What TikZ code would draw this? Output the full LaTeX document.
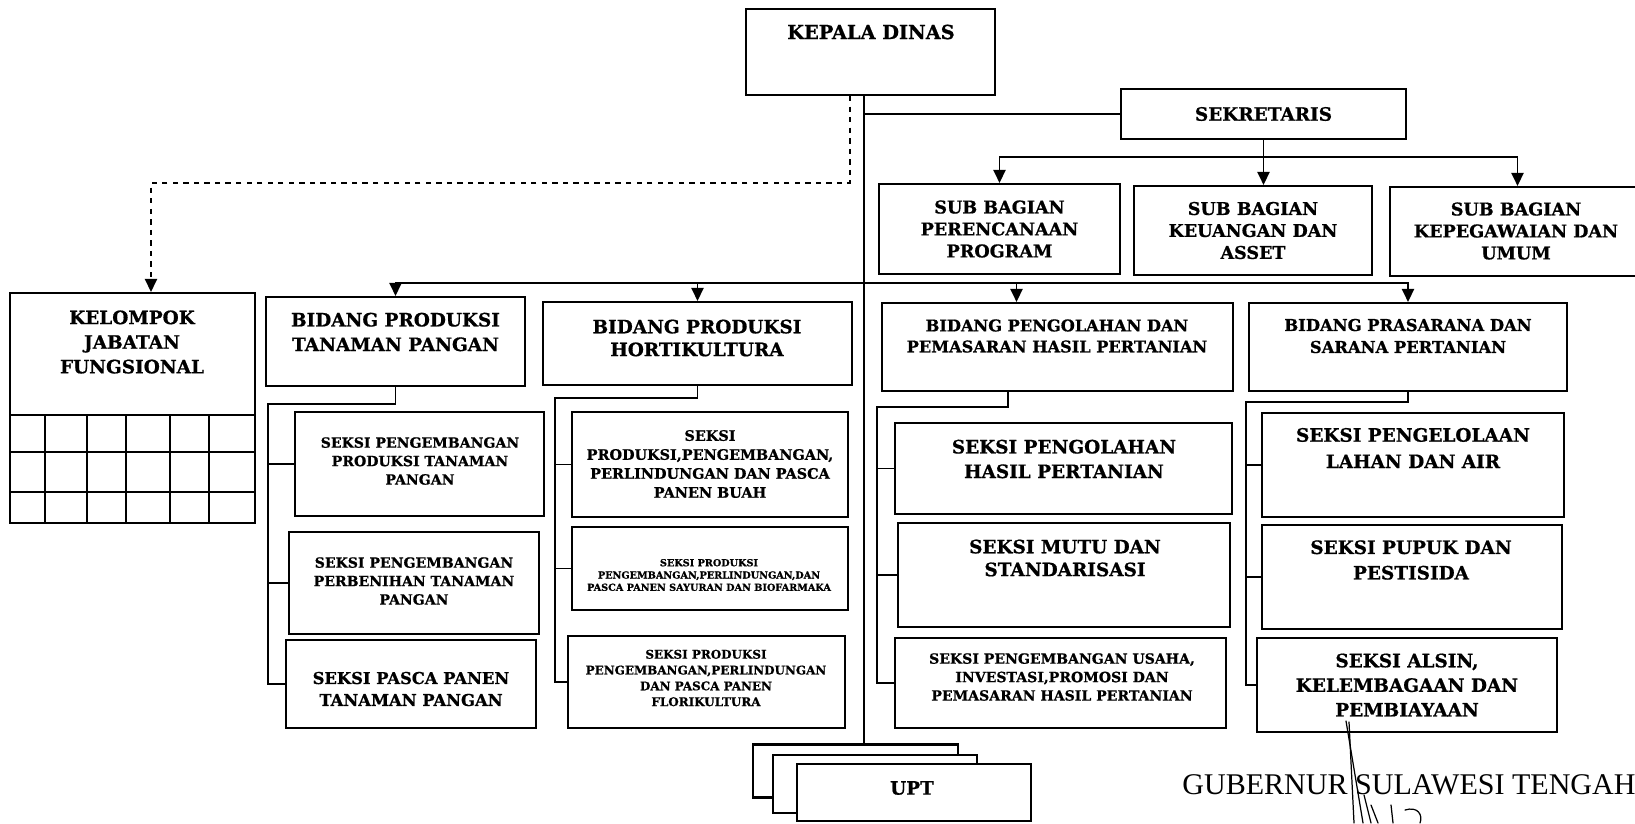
\documentclass[tikz,border=0pt]{standalone}
\usepackage{fontspec}
\setmainfont{DejaVu Serif}[BoldFeatures={FakeBold=0.8}]
\newfontfamily\signfont{Liberation Serif}
\usetikzlibrary{arrows.meta,calc}

\newcommand{\fs}[2]{\bfseries\fontsize{#1}{#2}\selectfont}

\tikzset{
  box/.style={draw, line width=1.2pt, fill=white, inner sep=0pt},
  sz/.style n args={2}{minimum width=#1*0.02cm, minimum height=#2*0.02cm},
  txt/.style={align=center, inner sep=0pt},
  conn/.style={line width=1pt},
  arr/.style={conn, -{Triangle[length=7.5pt,width=7pt]}},
  sig/.style={line width=0.7pt, line cap=round},
}

\begin{document}
\begin{tikzpicture}[x=0.02cm, y=-0.02cm]
        \useasboundingbox (0,0) rectangle (1635,823);

        % Kepala Dinas and Sekretaris
        \node[box, sz={249}{86}] (kadis) at (870.5,52) {};
        \node[txt, font=\fs{11}{13}] (kadis-t) at (871,32) {KEPALA DINAS};
        \node[box, sz={285}{50}] (sekre) at (1263.5,114) {};
        \node[txt, font=\fs{10.5}{13}] (sekre-t) at (sekre) {SEKRETARIS};

        % Sub bagian
        \node[box, sz={241}{90}] (sbprog) at (999.5,229) {};
        \node[txt, font=\fs{10}{12.5}] (sbprog-t) at (sbprog) {SUB BAGIAN\\PERENCANAAN\\PROGRAM};
        \node[box, sz={238}{89}] (sbkeu) at (1253,230.5) {};
        \node[txt, font=\fs{10}{12.5}] (sbkeu-t) at (sbkeu) {SUB BAGIAN\\KEUANGAN DAN\\ASSET};
        \node[box, sz={255}{89}] (sbumum) at (1517.5,231.5) {};
        \node[txt, font=\fs{10}{12.5}] (sbumum-t) at (1516,231) {SUB BAGIAN\\KEPEGAWAIAN DAN\\UMUM};

        % Kelompok jabatan fungsional
        \node[box, sz={245}{230}] (jf) at (132.5,408) {};
        \node[txt, font=\fs{10.5}{14}] (jf-t) at (132,342) {KELOMPOK\\JABATAN\\FUNGSIONAL};
        \foreach \gy in {415,452,492}
            \draw[line width=1.2pt] (10,\gy) -- (255,\gy);
        \foreach \gx in {45,87,126,170,209}
            \draw[line width=1.2pt] (\gx,415) -- (\gx,523);

        % Bidang
        \node[box, sz={259}{89}] (tp) at (395.5,341.5) {};
        \node[txt, font=\fs{10.5}{14}] (tp-t) at (395.5,332) {BIDANG PRODUKSI\\TANAMAN PANGAN};
        \node[box, sz={309}{83}] (horti) at (697.5,343.5) {};
        \node[txt, font=\fs{10.5}{13}] (horti-t) at (697,338) {BIDANG PRODUKSI\\HORTIKULTURA};
        \node[box, sz={351}{88}] (php) at (1057.5,347) {};
        \node[txt, font=\fs{9.2}{12}] (php-t) at (1057,336) {BIDANG PENGOLAHAN DAN\\PEMASARAN HASIL PERTANIAN};
        \node[box, sz={318}{88}] (psp) at (1408,347) {};
        \node[txt, font=\fs{9.3}{12.5}] (psp-t) at (1408,336) {BIDANG PRASARANA DAN\\SARANA PERTANIAN};

        % Seksi tanaman pangan
        \node[box, sz={249}{104}] (tp1) at (419.5,464) {};
        \node[txt, font=\fs{8}{10.5}] (tp1-t) at (420,461) {SEKSI PENGEMBANGAN\\PRODUKSI TANAMAN\\PANGAN};
        \node[box, sz={250}{102}] (tp2) at (414,583) {};
        \node[txt, font=\fs{8}{10.5}] (tp2-t) at (414,581) {SEKSI PENGEMBANGAN\\PERBENIHAN TANAMAN\\PANGAN};
        \node[box, sz={250}{88}] (tp3) at (411,684) {};
        \node[txt, font=\fs{9.3}{12.5}] (tp3-t) at (411,689) {SEKSI PASCA PANEN\\TANAMAN PANGAN};

        % Seksi hortikultura
        \node[box, sz={276}{105}] (horti1) at (710,464.5) {};
        \node[txt, font=\fs{8.2}{10.8}] (horti1-t) at (710,464) {SEKSI\\PRODUKSI,PENGEMBANGAN,\\PERLINDUNGAN DAN PASCA\\PANEN BUAH};
        \node[box, sz={276}{83}] (horti2) at (710,568.5) {};
        \node[txt, font=\fs{5.5}{7}] (horti2-t) at (709,575) {SEKSI PRODUKSI\\PENGEMBANGAN,PERLINDUNGAN,DAN\\PASCA PANEN SAYURAN DAN BIOFARMAKA};
        \node[box, sz={277}{92}] (horti3) at (706.5,682) {};
        \node[txt, font=\fs{6.8}{9}] (horti3-t) at (706,678) {SEKSI PRODUKSI\\PENGEMBANGAN,PERLINDUNGAN\\DAN PASCA PANEN\\FLORIKULTURA};

        % Seksi pengolahan dan pemasaran
        \node[box, sz={337}{91}] (php1) at (1063.5,468.5) {};
        \node[txt, font=\fs{10.5}{14}] (php1-t) at (1064,459) {SEKSI PENGOLAHAN\\HASIL PERTANIAN};
        \node[box, sz={332}{104}] (php2) at (1064,575) {};
        \node[txt, font=\fs{10.5}{13}] (php2-t) at (1065,558) {SEKSI MUTU DAN\\STANDARISASI};
        \node[box, sz={331}{90}] (php3) at (1060.5,683) {};
        \node[txt, font=\fs{8}{10.5}] (php3-t) at (1062,677) {SEKSI PENGEMBANGAN USAHA,\\INVESTASI,PROMOSI DAN\\PEMASARAN HASIL PERTANIAN};

        % Seksi prasarana dan sarana
        \node[box, sz={302}{104}] (psp1) at (1413,465) {};
        \node[txt, font=\fs{10.5}{15}] (psp1-t) at (1413,448) {SEKSI PENGELOLAAN\\LAHAN DAN AIR};
        \node[box, sz={300}{104}] (psp2) at (1412,577) {};
        \node[txt, font=\fs{10.5}{14.5}] (psp2-t) at (1411,560) {SEKSI PUPUK DAN\\PESTISIDA};
        \node[box, sz={300}{94}] (psp3) at (1407,685) {};
        \node[txt, font=\fs{10.5}{14}] (psp3-t) at (1407,685) {SEKSI ALSIN,\\KELEMBAGAAN DAN\\PEMBIAYAAN};

        % UPT (stacked)
        \node[box, sz={205}{53}] (upt1) at (855.5,771) {};
        \node[box, sz={204}{58}] (upt2) at (875,784) {};
        \node[box, sz={234}{57}] (upt3) at (914,792.5) {};
        \node[txt, font=\fs{10.5}{13}] (upt-t) at (912,788) {UPT};

        % Main spine and Sekretaris
        \coordinate (spine) at (864,283);
        \draw[conn] (kadis.south -| spine) -- (upt1.north -| spine);
        \draw[conn] (sekre.west) -- (sekre.west -| spine);
        \coordinate (sbus) at ($(sekre.south)+(0,17)$);
        \draw[conn] (sekre.south) -- (sbus);
        \draw[arr] (sbus) -- (sbus |- sbkeu.north);
        \draw[arr] (sbus) -| (sbprog.north);
        \draw[arr] (sbus) -| (sbumum.north);

        % Bus to the bidang
        \draw[arr] (spine) -| (tp.north);
        \draw[arr] (spine) -| (horti.north);
        \draw[arr] (spine) -| ([xshift=-0.82cm]php.north);
        \draw[arr] (spine) -| (psp.north);

        % Dashed line to kelompok jabatan fungsional
        \draw[arr, dashed] ([xshift=-0.41cm]kadis.south) -- ++(0,87) -| ([xshift=0.37cm]jf.north);

        % Bidang to seksi
        \coordinate (tp-c) at (268,404);
        \draw[conn] (tp.south) |- (tp-c) |- (tp3.west);
        \draw[conn] (tp-c |- tp1.west) -- (tp1.west);
        \draw[conn] (tp-c |- tp2.west) -- (tp2.west);

        \coordinate (horti-c) at (555,398);
        \draw[conn] (horti.south) |- (horti-c) |- (horti3.west);
        \draw[conn] (horti-c |- horti1.west) -- (horti1.west);
        \draw[conn] (horti-c |- horti2.west) -- (horti2.west);

        \coordinate (php-c) at (877,407);
        \draw[conn] ([xshift=-0.99cm]php.south) |- (php-c) |- (php3.west);
        \draw[conn] (php-c |- php1.west) -- (php1.west);
        \draw[conn] (php-c |- php2.west) -- (php2.west);

        \coordinate (psp-c) at (1246,402);
        \draw[conn] (psp.south) |- (psp-c) |- (psp3.west);
        \draw[conn] (psp-c |- psp1.west) -- (psp1.west);
        \draw[conn] (psp-c |- psp2.west) -- (psp2.west);

        % Signature
        \node[anchor=base west, inner sep=0pt, font=\signfont\fontsize{17.1}{20}\selectfont] (gub) at (1182,794) {GUBERNUR SULAWESI TENGAH};
        \draw[sig] (1346,721) -- (1363,823);
        \draw[sig] (1349,722) -- (1354,823);
        \draw[sig] (1364,795) -- (1371,823);
        \draw[sig] (1371,805) -- (1378,823);
        \draw[sig] (1391,805) -- (1393,823);
        \draw[sig] (1405,810) .. controls (1418,806) and (1423,815) .. (1420,823);
    \end{tikzpicture}
\end{document}
